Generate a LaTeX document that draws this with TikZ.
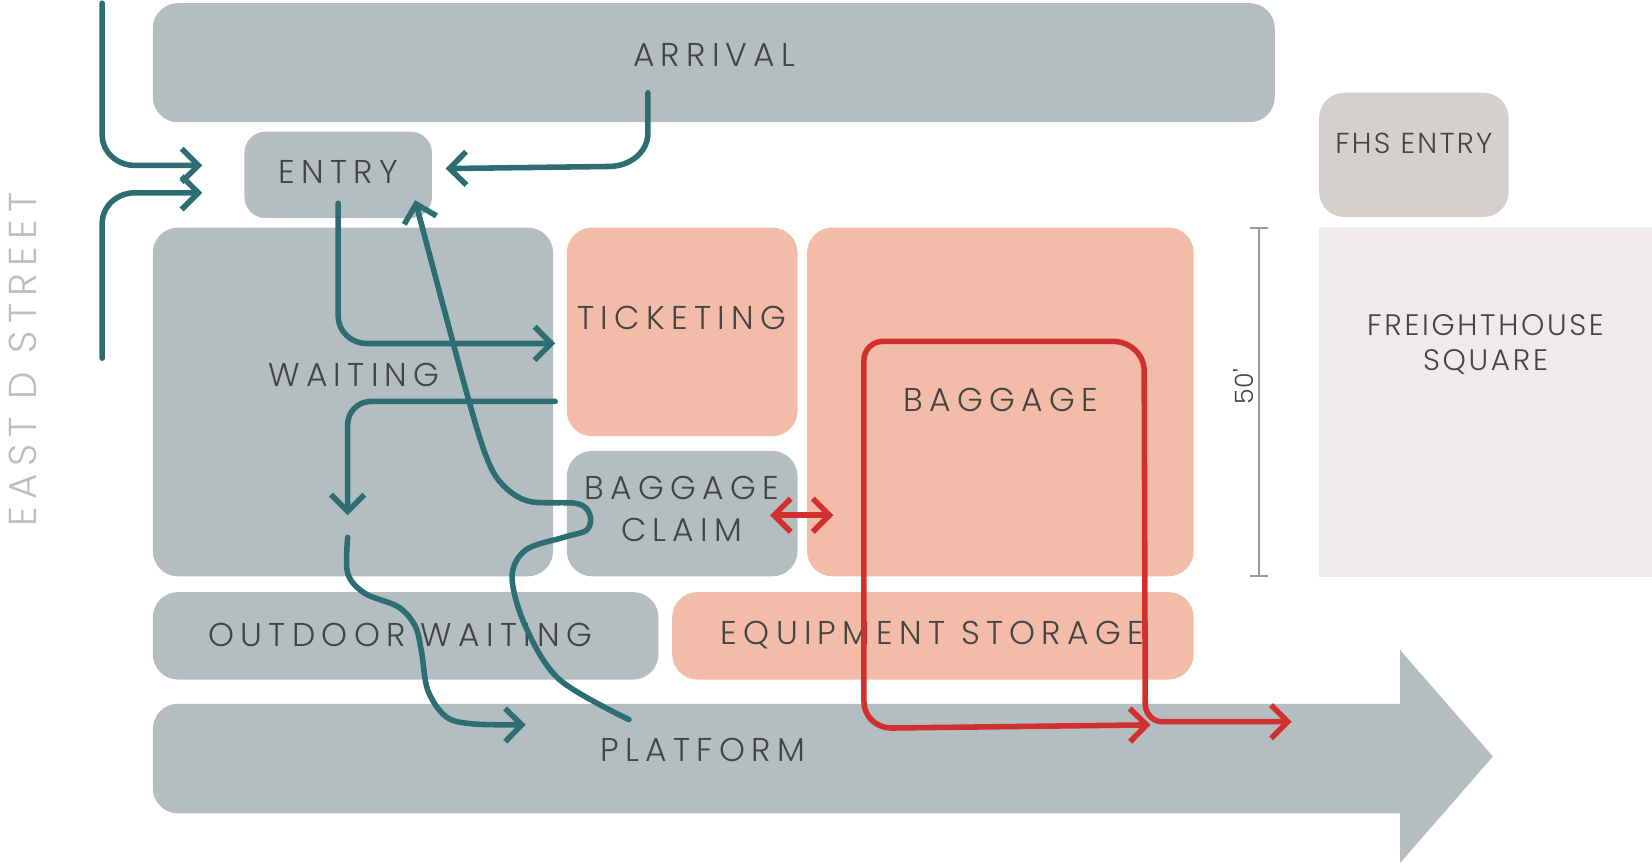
\documentclass[tikz,border=0pt]{standalone}
\usepackage{fontspec}
\setmainfont{Poppins}[UprightFont=* Light, LetterSpace=19]
\newfontfamily\dimfont{Poppins}[UprightFont=* Light, Ligatures=TeXOff]
\usetikzlibrary{arrows.meta, calc}

\definecolor{roomgray}{HTML}{B4BEC1}
\definecolor{roomsalmon}{HTML}{F2BCA9}
\definecolor{fhsgray}{HTML}{D5D0CE}
\definecolor{squaregray}{HTML}{EEEBEA}
\definecolor{flowteal}{HTML}{2E6E72}
\definecolor{flowred}{HTML}{D2302F}
\definecolor{labelgray}{HTML}{444444}
\definecolor{streetgray}{HTML}{BDBDBD}
\definecolor{dimgray}{HTML}{9A9A9A}

\begin{document}
\begin{tikzpicture}[x=0.01cm, y=-0.01cm,
  room/.style={fill=roomgray, rounded corners=0.24cm},
  hot/.style={fill=roomsalmon, rounded corners=0.24cm},
  lbl/.style={text=labelgray, font=\fontsize{8.9}{11.4}\selectfont, align=center, inner sep=0pt},
  flow/.style={draw=flowteal, line width=1.5pt, line cap=round, -{Straight Barb[length=4.5pt,width=9pt]}},
  redflow/.style={draw=flowred, line width=1.5pt, line cap=round, -{Straight Barb[length=4.5pt,width=9pt]}}]
\useasboundingbox (0,0) rectangle (1568,820);

% Street
\node[text=streetgray, font=\fontsize{10.5}{13}\selectfont, rotate=90, inner sep=0pt] (street) at (22,341) {EAST D STREET};

% Arrival and entries
\fill[room] (145,3) rectangle (1210,116);
\node[lbl] (arrival) at (678,52) {ARRIVAL};
\fill[room, rounded corners=0.2cm] (232,125) rectangle (410,207);
\node[lbl] (entry) at (321,163) {ENTRY};
\fill[fhsgray, rounded corners=0.24cm] (1252,88) rectangle (1432,206);
\node[lbl, font=\fontsize{7.8}{10}\selectfont\addfontfeatures{LetterSpace=8}] (fhs) at (1342,136) {FHS ENTRY};

% Station rooms
\fill[room] (145,216) rectangle (525,547);
\node[lbl] (waiting) at (336,356) {WAITING};
\fill[hot] (538,216) rectangle (757,414);
\node[lbl] (ticketing) at (647,302) {TICKETING};
\fill[room] (538,428) rectangle (757,547);
\node[lbl] (claim) at (647,483) {BAGGAGE\\CLAIM};
\fill[hot] (766,216) rectangle (1133,547);
\node[lbl] (baggage) at (950,380) {BAGGAGE};
\fill[room] (145,562) rectangle (625,645);
\node[lbl] (outdoor) at (380,603) {OUTDOOR WAITING};
\fill[hot] (638,562) rectangle (1133,645);
\node[lbl] (storage) at (885,603) {EQUIPMENT STORAGE};

% Platform
\fill[roomgray, rounded corners=0.24cm] (1340,668) -- (145,668) -- (145,772) -- (1340,772);
\fill[roomgray] (1329,667) -- (1329,617) -- (1417,718) -- (1329,819) -- (1329,773) -- cycle;
\node[lbl] (platform) at (667,712) {PLATFORM};

% Freighthouse Square and dimension
\fill[squaregray] (1252,215) rectangle (1568,548);
\node[lbl, font=\fontsize{8}{9.6}\selectfont\addfontfeatures{LetterSpace=9}] (square) at (1410,327) {FREIGHTHOUSE\\SQUARE};
\coordinate (dimtop) at (1195,215);
\coordinate (dimbot) at (1195,548);
\draw[dimgray, line width=0.6pt, {Bar[width=5pt]}-{Bar[width=5pt]}] (dimtop) -- (dimbot);
\node[lbl, font=\fontsize{6.8}{8}\dimfont, rotate=90] (fifty) at (1180,367) {50'};

% Passenger flows
\coordinate (northin) at (97,3);
\coordinate (southin) at (97,340);
\coordinate (entryw1) at (192,157);
\coordinate (entryw2) at (192,183);
\coordinate (arrout) at (615,88);
\coordinate (entrye) at (423,160);
\coordinate (entrys) at (321,193);
\coordinate (ticketw) at (527,326);
\coordinate (ticketout) at (527,381);
\coordinate (waitdown) at (330,489);
\coordinate (waitout) at (330,510);
\coordinate (platin) at (499,688);
\coordinate (platout) at (597,683);
\coordinate (entryback) at (394,190);
\draw[flow] (northin) -- (97,128) to[out=-90,in=180] (128,157) -- (entryw1);
\draw[flow] (southin) -- (97,212) to[out=90,in=180] (128,183) -- (entryw2);
\draw[flow] (arrout) -- (615,126) to[out=-90,in=0] (578,158) -- (entrye);
\draw[flow] (entrys) -- (321,300) to[out=-90,in=180] (348,326) -- (ticketw);
\draw[flow] (ticketout) -- (352,381) to[out=180,in=90] (330,403) -- (waitdown);
\draw[flow] plot[smooth, tension=0.55] coordinates {(waitout) (330,544) (346,563) (378,576) (394,594) (400,618) (406,655) (423,680) (448,687) (platin)};
\draw[flow] plot[smooth, tension=0.55] coordinates {(platout) (531,645) (499,595) (486,548) (499,522) (535,510) (557,503) (560,489) (548,478) (503,476) (479,462) (463,437) (443,373) (entryback)};

% Baggage flows
\coordinate (claimE) at (731,489);
\coordinate (bagW) at (791,489);
\coordinate (loopstart) at (1087,668);
\coordinate (loopend) at (1092,688);
\coordinate (trainout) at (1226,685);
\draw[redflow, {Straight Barb[length=4.5pt,width=9pt]}-{Straight Barb[length=4.5pt,width=9pt]}] (claimE) -- (bagW);
\draw[redflow] (loopstart) -- (1086,352) to[out=90,in=0] (1056,324) -- (838,324) to[out=180,in=90] (820,342) -- (820,666) to[out=-90,in=180] (846,691) -- (loopend);
\draw[redflow] (loopstart) to[out=-90,in=180] (1103,685) -- (trainout);
\end{tikzpicture}
\end{document}
